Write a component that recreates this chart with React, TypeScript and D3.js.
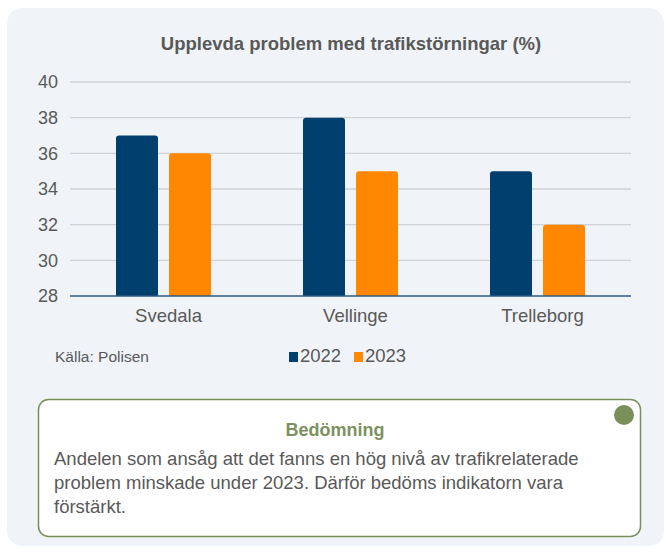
import React from 'react';
import * as d3 from 'd3';

// Chart data
const categories = ["Svedala", "Vellinge", "Trelleborg"];
const seriesNames = ["2022", "2023"];
const values2022 = [37, 38, 35];
const values2023 = [36, 35, 32];
const yTicks = [28, 30, 32, 34, 36, 38, 40];

const COLOR_2022 = "#003f6e";
const COLOR_2023 = "#ff8800";
const COLOR_TEXT = "#595959";
const COLOR_GRID = "#d0d3d6";
const COLOR_GREEN = "#7a8f5a";
const PANEL_BG = "#f0f4f8";
const FONT = "'Liberation Sans', Arial, sans-serif";

const bodyLines = [
  "Andelen som ansåg att det fanns en hög nivå av trafikrelaterade",
  "problem minskade under 2023. Därför bedöms indikatorn vara",
  "förstärkt.",
];

function topRoundedBar(x: number, y: number, w: number, h: number, r: number) {
  const p = d3.path();
  p.moveTo(x, y + h);
  p.lineTo(x, y + r);
  p.arcTo(x, y, x + r, y, r);
  p.lineTo(x + w - r, y);
  p.arcTo(x + w, y, x + w, y + r, r);
  p.lineTo(x + w, y + h);
  p.closePath();
  return p.toString();
}

export default function App() {
  const width = 666;
  const height = 553;

  const x0 = d3.scaleBand().domain(categories).range([70, 631]);
  const x1 = d3.scaleBand().domain(seriesNames).range([46, 141]).paddingInner(11 / 53);
  const y = d3.scaleLinear().domain([28, 40]).range([296, 82]);

  const series = [
    { name: seriesNames[0], values: values2022, color: COLOR_2022 },
    { name: seriesNames[1], values: values2023, color: COLOR_2023 },
  ];

  return (
    <svg width={width} height={height} style={{ position: 'absolute', left: 0, top: 0 }} fontFamily={FONT}>
      <rect x={0} y={0} width={width} height={height} fill="#ffffff" />
      <rect x={7} y={8} width={657} height={538} rx={15} fill={PANEL_BG} />

      {/* Title */}
      <text x={351} y={50} textAnchor="middle" fontSize={18.5} fontWeight="bold" fill={COLOR_TEXT}>
        Upplevda problem med trafikstörningar (%)
      </text>

      {/* Grid + y ticks */}
      {yTicks.map((t) => (
        <g key={t}>
          {t !== 28 && (
            <line x1={70} x2={631} y1={y(t)} y2={y(t)} stroke={COLOR_GRID} strokeWidth={1.3} />
          )}
          <text x={58} y={y(t)} dy="0.35em" textAnchor="end" fontSize={18} fill={COLOR_TEXT}>
            {t}
          </text>
        </g>
      ))}

      {/* Bars */}
      {categories.map((c, i) => (
        <g key={c} transform={`translate(${x0(c)},0)`}>
          {series.map((s) => (
            <path
              key={s.name}
              d={topRoundedBar(x1(s.name)!, y(s.values[i]), x1.bandwidth(), y(28) - y(s.values[i]), 3)}
              fill={s.color}
            />
          ))}
          <text x={x0.bandwidth() / 2 + 5} y={322} textAnchor="middle" fontSize={18.5} fill={COLOR_TEXT}>
            {c}
          </text>
        </g>
      ))}

      {/* Baseline */}
      <line x1={70} x2={631} y1={y(28)} y2={y(28)} stroke="#2d5a87" strokeWidth={1.5} />

      {/* Source + legend */}
      <text x={55} y={362} fontSize={15.5} fill={COLOR_TEXT}>Källa: Polisen</text>
      {series.map((s, i) => (
        <g key={s.name} transform={`translate(${289 + i * 65},0)`}>
          <rect x={0} y={352} width={9} height={10} fill={s.color} />
          <text x={11} y={362} fontSize={18.5} fill={COLOR_TEXT}>{s.name}</text>
        </g>
      ))}

      {/* Assessment box */}
      <rect x={38.5} y={399.5} width={602} height={137} rx={10} fill="#ffffff" stroke={COLOR_GREEN} strokeWidth={1.5} />
      <circle cx={624} cy={415} r={10} fill={COLOR_GREEN} />
      <text x={335} y={436} textAnchor="middle" fontSize={18} fontWeight="bold" fill="#7d9160">
        Bedömning
      </text>
      {bodyLines.map((line, i) => (
        <text key={i} x={54} y={465 + i * 24} fontSize={18.5} fill={COLOR_TEXT}>
          {line}
        </text>
      ))}
    </svg>
  );
}
